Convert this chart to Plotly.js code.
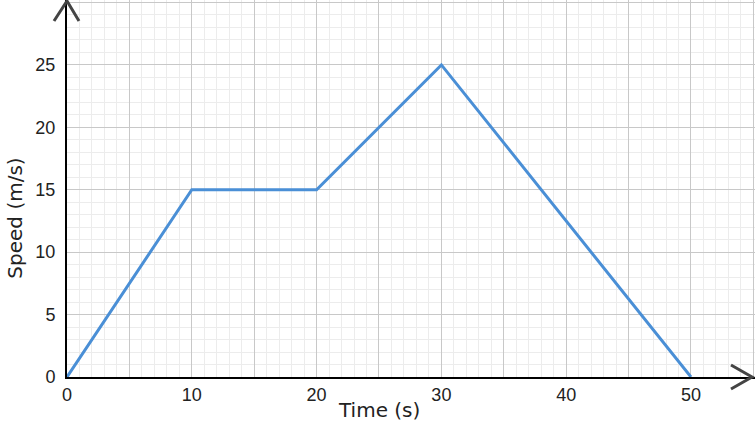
<!DOCTYPE html>
<html>
<head>
<meta charset="utf-8">
<script src="https://cdn.plot.ly/plotly-3.0.1.min.js"></script>
<style>html,body{margin:0;padding:0;background:#fff;}#chart{width:755px;height:427px;}</style>
</head>
<body>
<div id="chart"></div>
<script>
// Data
const timeValues = [0, 10, 20, 30, 50];
const speedValues = [0, 15, 15, 25, 0];
const xTickVals = [0, 5, 10, 15, 20, 25, 30, 35, 40, 45, 50, 55];
const xTickText = ['0', '', '10', '', '20', '', '30', '', '40', '', '50', ''];
const yTickVals = [0, 5, 10, 15, 20, 25, 30];
const yTickText = ['0', '5', '10', '15', '20', '25', ''];
const xTitle = 'Time (s)';
const yTitle = 'Speed (m/s)';

const trace = {
  x: timeValues, y: speedValues, type: 'scatter', mode: 'lines',
  line: {color: '#4a8fd6', width: 3}, hoverinfo: 'skip', cliponaxis: false
};

const arrowStyle = {color: '#444444', width: 3};
const layout = {
  width: 755, height: 427,
  margin: {l: 67, r: 0, t: 0, b: 50, pad: 0},
  paper_bgcolor: '#ffffff', plot_bgcolor: '#ffffff',
  showlegend: false,
  font: {family: 'Liberation Sans, Arial, sans-serif', size: 18, color: '#222222'},
  xaxis: {
    range: [0, 55.13], tickmode: 'array', tickvals: xTickVals, ticktext: xTickText,
    showgrid: true, gridcolor: '#c8c8c8', gridwidth: 1,
    minor: {dtick: 1, tick0: 0, showgrid: true, gridcolor: '#ececec', gridwidth: 1},
    zeroline: false, showline: true, linecolor: '#000000', linewidth: 2,
    ticks: '', fixedrange: true
  },
  yaxis: {
    range: [0, 30.2], tickmode: 'array', tickvals: yTickVals, ticktext: yTickText,
    showgrid: true, gridcolor: '#c8c8c8', gridwidth: 1,
    minor: {dtick: 1, tick0: 0, showgrid: true, gridcolor: '#ececec', gridwidth: 1},
    zeroline: false, showline: true, linecolor: '#000000', linewidth: 2,
    ticks: '', ticklabelstandoff: 6, fixedrange: true
  },
  annotations: [
    {text: xTitle, xref: 'x', yref: 'paper', x: 25, y: 0, yshift: -33, yanchor: 'middle',
     showarrow: false, font: {family: 'DejaVu Sans, sans-serif', size: 20, color: '#222222'}},
    {text: yTitle, xref: 'paper', yref: 'paper', x: 0, xshift: -52, y: 0.42, textangle: -90,
     xanchor: 'center', yanchor: 'middle',
     showarrow: false, font: {family: 'DejaVu Sans, sans-serif', size: 20, color: '#222222'}}
  ],
  shapes: [
    {type: 'path', xref: 'paper', yref: 'paper', xsizemode: 'pixel', ysizemode: 'pixel',
     xanchor: 0, yanchor: 1, path: 'M -13,-21 L 0,-1 L 12,-21', line: arrowStyle},
    {type: 'path', xref: 'paper', yref: 'paper', xsizemode: 'pixel', ysizemode: 'pixel',
     xanchor: 1, yanchor: 0, path: 'M -24,12 L -3,0 L -24,-12', line: arrowStyle}
  ]
};

Plotly.newPlot('chart', [trace], layout, {displayModeBar: false, staticPlot: true});
</script>
</body>
</html>
